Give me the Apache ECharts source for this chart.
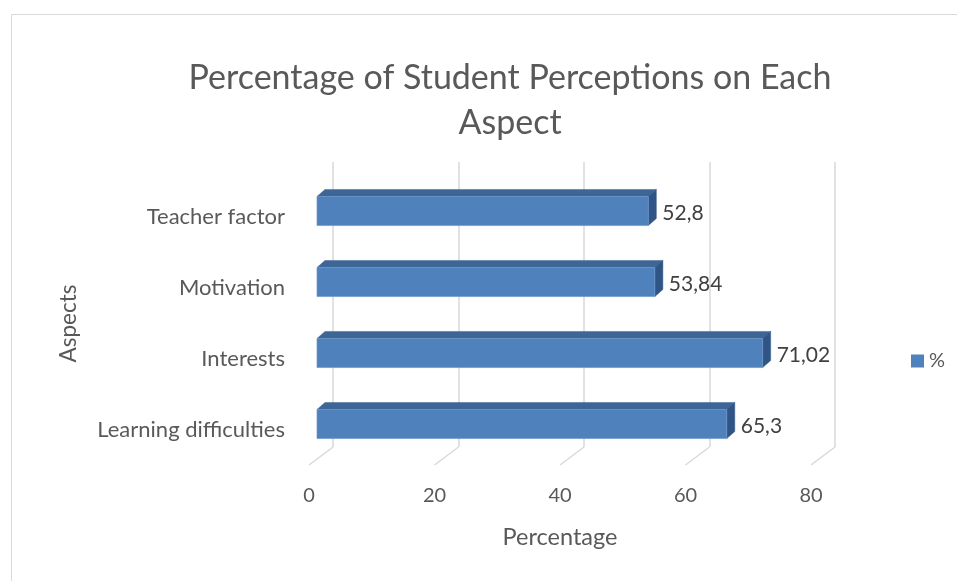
<!DOCTYPE html>
<html><head><meta charset="utf-8">
<script src="https://cdn.jsdelivr.net/npm/echarts@6/dist/echarts.min.js"></script>
<style>html,body{margin:0;padding:0;background:#fff}#c{width:957px;height:581px}</style>
</head><body><div id="c"></div>
<script>
const categories = ['Learning difficulties', 'Interests', 'Motivation', 'Teacher factor'];
const values = [65.3, 71.02, 53.84, 52.8];
const xTicks = [0, 20, 40, 60, 80];
const seriesName = '%';
const titleText = 'Percentage of Student Perceptions on Each\nAspect';

const FONT = 'Lato';
const TXT = '#595959';
const DX = 8, DY = 7;       // bar depth offset
const FDX = 24, FDY = 18;   // full floor depth

const chart = echarts.init(document.getElementById('c'));
chart.setOption({
  animation: false,
  backgroundColor: '#fff',
  title: {
    text: titleText, left: 505, top: 51, textAlign: 'center',
    textStyle: {fontFamily: FONT, fontSize: 34, fontWeight: 'normal', color: TXT, lineHeight: 45}
  },
  legend: {
    data: [seriesName], left: 906, top: 346, itemWidth: 13, itemHeight: 13, itemGap: 5,
    icon: 'rect', textStyle: {fontFamily: FONT, fontSize: 20, color: TXT}
  },
  graphic: [{type: 'rect', left: 9, top: 12, shape: {width: 960, height: 580}, style: {fill: 'none', stroke: '#d9d9d9', lineWidth: 1}, z: -10}],
  grid: [
    {left: 317, top: 175.5, width: 502, height: 284},
    {left: 333, top: 162, width: 502, height: 285},
    {left: 309, top: 181.5, width: 502, height: 284}
  ],
  xAxis: [
    {gridIndex: 0, type: 'value', min: 0, max: 80, interval: 20, show: false},
    {gridIndex: 1, type: 'value', min: 0, max: 80, interval: 20,
      axisLine: {show: false}, axisTick: {show: false}, axisLabel: {show: false},
      splitLine: {show: true, lineStyle: {color: '#d9d9d9', width: 1.5}}},
    {gridIndex: 2, type: 'value', min: 0, max: 80, interval: 20,
      axisLine: {show: false}, axisTick: {show: false}, splitLine: {show: false},
      axisLabel: {margin: 20, fontFamily: FONT, fontSize: 20, color: TXT, formatter: v => xTicks.includes(v) ? String(v) : ''},
      name: 'Percentage', nameLocation: 'middle', nameGap: 60,
      nameTextStyle: {fontFamily: FONT, fontSize: 23.5, color: TXT}}
  ],
  yAxis: [
    {gridIndex: 0, type: 'category', data: categories, show: false},
    {gridIndex: 1, type: 'value', min: 0, max: 1, show: false},
    {gridIndex: 2, type: 'category', data: categories,
      axisLine: {show: false}, axisTick: {show: false},
      axisLabel: {margin: 24, fontFamily: FONT, fontSize: 22, color: TXT},
      name: 'Aspects', nameLocation: 'middle', nameGap: 229, nameRotate: 90,
      nameTextStyle: {fontFamily: FONT, fontSize: 22.5, color: TXT}}
  ],
  series: [
    {
      type: 'custom', name: 'floor', xAxisIndex: 1, yAxisIndex: 1, silent: true,
      data: xTicks.map(v => [v, 0]),
      renderItem: (params, api) => {
        const p = api.coord([api.value(0), 0]);
        return {type: 'line', shape: {x1: p[0], y1: p[1], x2: p[0] - FDX, y2: p[1] + FDY},
          style: {stroke: '#d9d9d9', lineWidth: 1.5}};
      }
    },
    {
      type: 'custom', name: seriesName, xAxisIndex: 0, yAxisIndex: 0,
      itemStyle: {color: '#4f81bd'},
      data: values.map((v, i) => [i, v]),
      encode: {x: 1, y: 0},
      renderItem: (params, api) => {
        const idx = api.value(0), v = api.value(1);
        const p0 = api.coord([0, idx]);
        const p1 = api.coord([v, idx]);
        const band = api.size([0, 1])[1];
        const h = band * 0.41;
        const top = p0[1] - h / 2, bot = p0[1] + h / 2;
        const x0 = p0[0], x1 = p1[0];
        return {type: 'group', children: [
          {type: 'polygon', shape: {points: [[x0, top], [x1, top], [x1 + DX, top - DY], [x0 + DX, top - DY]]},
            style: {fill: '#3d6696', stroke: '#3d6696', lineWidth: 0.5}},
          {type: 'polygon', shape: {points: [[x1, top], [x1 + DX, top - DY], [x1 + DX, bot - DY], [x1, bot]]},
            style: {fill: '#2f5587', stroke: '#2f5587', lineWidth: 0.5}},
          {type: 'rect', shape: {x: x0, y: top, width: x1 - x0, height: h},
            style: {fill: '#4f81bd', stroke: '#6f97c9', lineWidth: 0.7}},
          {type: 'text', x: x1 + DX + 6, y: p0[1] + 2,
            style: {text: String(v).replace('.', ','), fontFamily: FONT, fontSize: 21, fill: '#404040',
              align: 'left', verticalAlign: 'middle'}}
        ]};
      }
    }
  ]
});
</script></body></html>
